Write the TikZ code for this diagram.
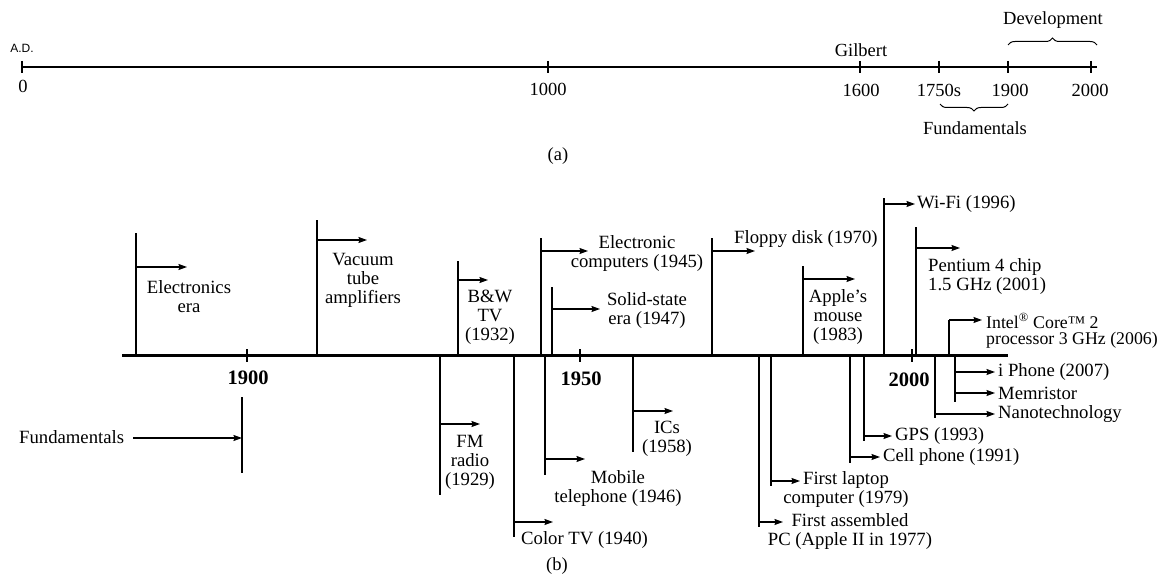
\documentclass[tikz,border=0pt]{standalone}
\usepackage{fontspec}
\setmainfont{Liberation Serif}
\setsansfont{Liberation Sans}
\usetikzlibrary{arrows.meta,decorations.pathreplacing}
\begin{document}
\begin{tikzpicture}[x=1pt,y=-1pt,
  stem/.style={line width=1.3pt},
  arr/.style={line width=1.2pt,-{Stealth[length=8.5pt,width=6pt,inset=1pt]}},
  lbl/.style={font=\fontsize{18.7}{19}\selectfont, inner sep=0pt, align=center},
  lblw/.style={lbl, anchor=west, align=left},
  yr/.style={font=\fontsize{18.5}{19}\selectfont, inner sep=0pt},
  byr/.style={font=\fontsize{20.5}{22}\selectfont\bfseries, inner sep=0pt},
  axisline/.style={line width=1.3pt},
  tick/.style={line width=1.2pt},
  maxis/.style={line width=3pt},
  brc/.style={decorate, decoration={brace, amplitude=7pt}, line width=1pt}
]
\useasboundingbox (0,0) rectangle (1165,575);

% ---------------- (a) ----------------
\node[font=\sffamily\fontsize{12}{12}\selectfont, inner sep=0pt] (ad) at (22,48) {A.D.};
\draw[axisline] (22,67) coordinate (aL) -- (1097,67) coordinate (aR);
\foreach \x in {22,548,860,939,1008,1091} \draw[tick] (\x,61) -- (\x,73);
\node[yr] (t0) at (23,86) {0};
\node[yr] (t1000) at (548,89) {1000};
\node[yr] (t1600) at (861,90) {1600};
\node[yr] (t1750) at (939,90) {1750s};
\node[yr] (t1900) at (1010,90) {1900};
\node[yr] (t2000) at (1090,90) {2000};
\node[yr] (gilbert) at (861,50) {Gilbert};
\draw[brc] (1008,45) coordinate (dvL) -- (1097,45) coordinate (dvR);
\node[yr] (dev) at (1053,20) {Development};
\draw[brc, decoration={brace, mirror, amplitude=7pt}] (940,104) coordinate (fuL) -- (1008,104) coordinate (fuR);
\node[yr] (fundtop) at (975,128) {Fundamentals};
\node[yr] (capa) at (558,156) {(a)};

% ---------------- (b) ----------------
\draw[maxis] (122,355) coordinate (bL) -- (1008,355) coordinate (bR);
\foreach \x in {247,580,912} \draw[tick] (\x,349) -- (\x,362);
\node[byr] (y1900) at (248,378) {1900};
\node[byr] (y1950) at (581,379) {1950};
\node[byr] (y2000) at (909,380) {2000};

% above the axis
\draw[stem] (136,355) -- (136,233);
\draw[arr] (136,267) -- (187,267);
\node[lbl] (elec) at (189,297) {Electronics\\era};

\draw[stem] (317,355) -- (317,220);
\draw[arr] (317,240) -- (367,240);
\node[lbl] (vac) at (363,280) {Vacuum\\tube\\amplifiers};

\draw[stem] (458,355) -- (458,261);
\draw[arr] (458,280) -- (488,280);
\node[lbl] (bw) at (490,317) {B\&W\\TV\\(1932)};

\draw[stem] (541,355) -- (541,238);
\draw[arr] (541,251) -- (588,251);
\node[lbl] (ecomp) at (637,254) {Electronic\\computers (1945)};

\draw[stem] (552,355) -- (552,287);
\draw[arr] (552,309) -- (600,309);
\node[lbl] (solid) at (647,311) {Solid-state\\era (1947)};

\draw[stem] (712,355) -- (712,238);
\draw[arr] (712,251) -- (755,251);
\node[lblw] (floppy) at (734,239) {Floppy disk (1970)};

\draw[stem] (803,355) -- (803,266);
\draw[arr] (803,279) -- (855,279);
\node[lbl] (mouse) at (838,317) {Apple’s\\mouse\\(1983)};

\draw[stem] (884,355) -- (884,198);
\draw[arr] (884,204) -- (915,204);
\node[lblw] (wifi) at (917,204) {Wi-Fi (1996)};

\draw[stem] (916,355) -- (916,227);
\draw[arr] (916,248) -- (960,248);
\node[lblw] (pent) at (928,277) {Pentium 4 chip\\1.5 GHz (2001)};

\draw[stem] (949,355) -- (949,320);
\draw[arr] (949,320) -- (982,320);
\node[lblw, font=\fontsize{17.8}{16.5}\selectfont] (intel) at (986,331) {Intel\textsuperscript{®} Core™ 2\\processor 3 GHz (2006)};

% below the axis
\draw[stem] (242,397) -- (242,473);
\node[lblw] (fund) at (19,437) {Fundamentals};
\draw[arr] (133,438) -- (242,438);

\draw[stem] (440,355) -- (440,495);
\draw[arr] (440,424) -- (480,424);
\node[lbl] (fm) at (470,462) {FM\\radio\\(1929)};

\draw[stem] (514,355) -- (514,537);
\draw[arr] (514,522) -- (553,522);
\node[lblw] (color) at (521,540) {Color TV (1940)};

\draw[stem] (545,355) -- (545,475);
\draw[arr] (545,459) -- (585,459);
\node[lbl] (mobile) at (618,488) {Mobile\\telephone (1946)};

\draw[stem] (633,355) -- (633,452);
\draw[arr] (633,411) -- (673,411);
\node[lbl] (ics) at (667,439) {ICs\\(1958)};

\draw[stem] (759,355) -- (759,527);
\draw[arr] (759,522) -- (783,522);
\node[lbl] (pc) at (850,531) {First assembled\\PC (Apple II in 1977)};

\draw[stem] (771,355) -- (771,486);
\draw[arr] (771,481) -- (800,481);
\node[lbl] (laptop) at (846,490) {First laptop\\computer (1979)};

\draw[stem] (850,355) -- (850,463);
\draw[arr] (850,457) -- (880,457);
\node[lblw] (cell) at (883,457) {Cell phone (1991)};

\draw[stem] (864,355) -- (864,441);
\draw[arr] (864,436) -- (892,436);
\node[lblw] (gps) at (895,436) {GPS (1993)};

\draw[stem] (935,355) -- (935,418);
\draw[arr] (935,414) -- (995,414);
\node[lblw] (nano) at (998,414) {Nanotechnology};

\draw[stem] (955,355) -- (955,402);
\draw[arr] (955,372) -- (995,372);
\draw[arr] (955,393) -- (995,393);
\node[lblw] (iphone) at (998,372) {i Phone (2007)};
\node[lblw] (memr) at (998,393) {Memristor};

\node[yr] (capb) at (557,566) {(b)};
\end{tikzpicture}
\end{document}
